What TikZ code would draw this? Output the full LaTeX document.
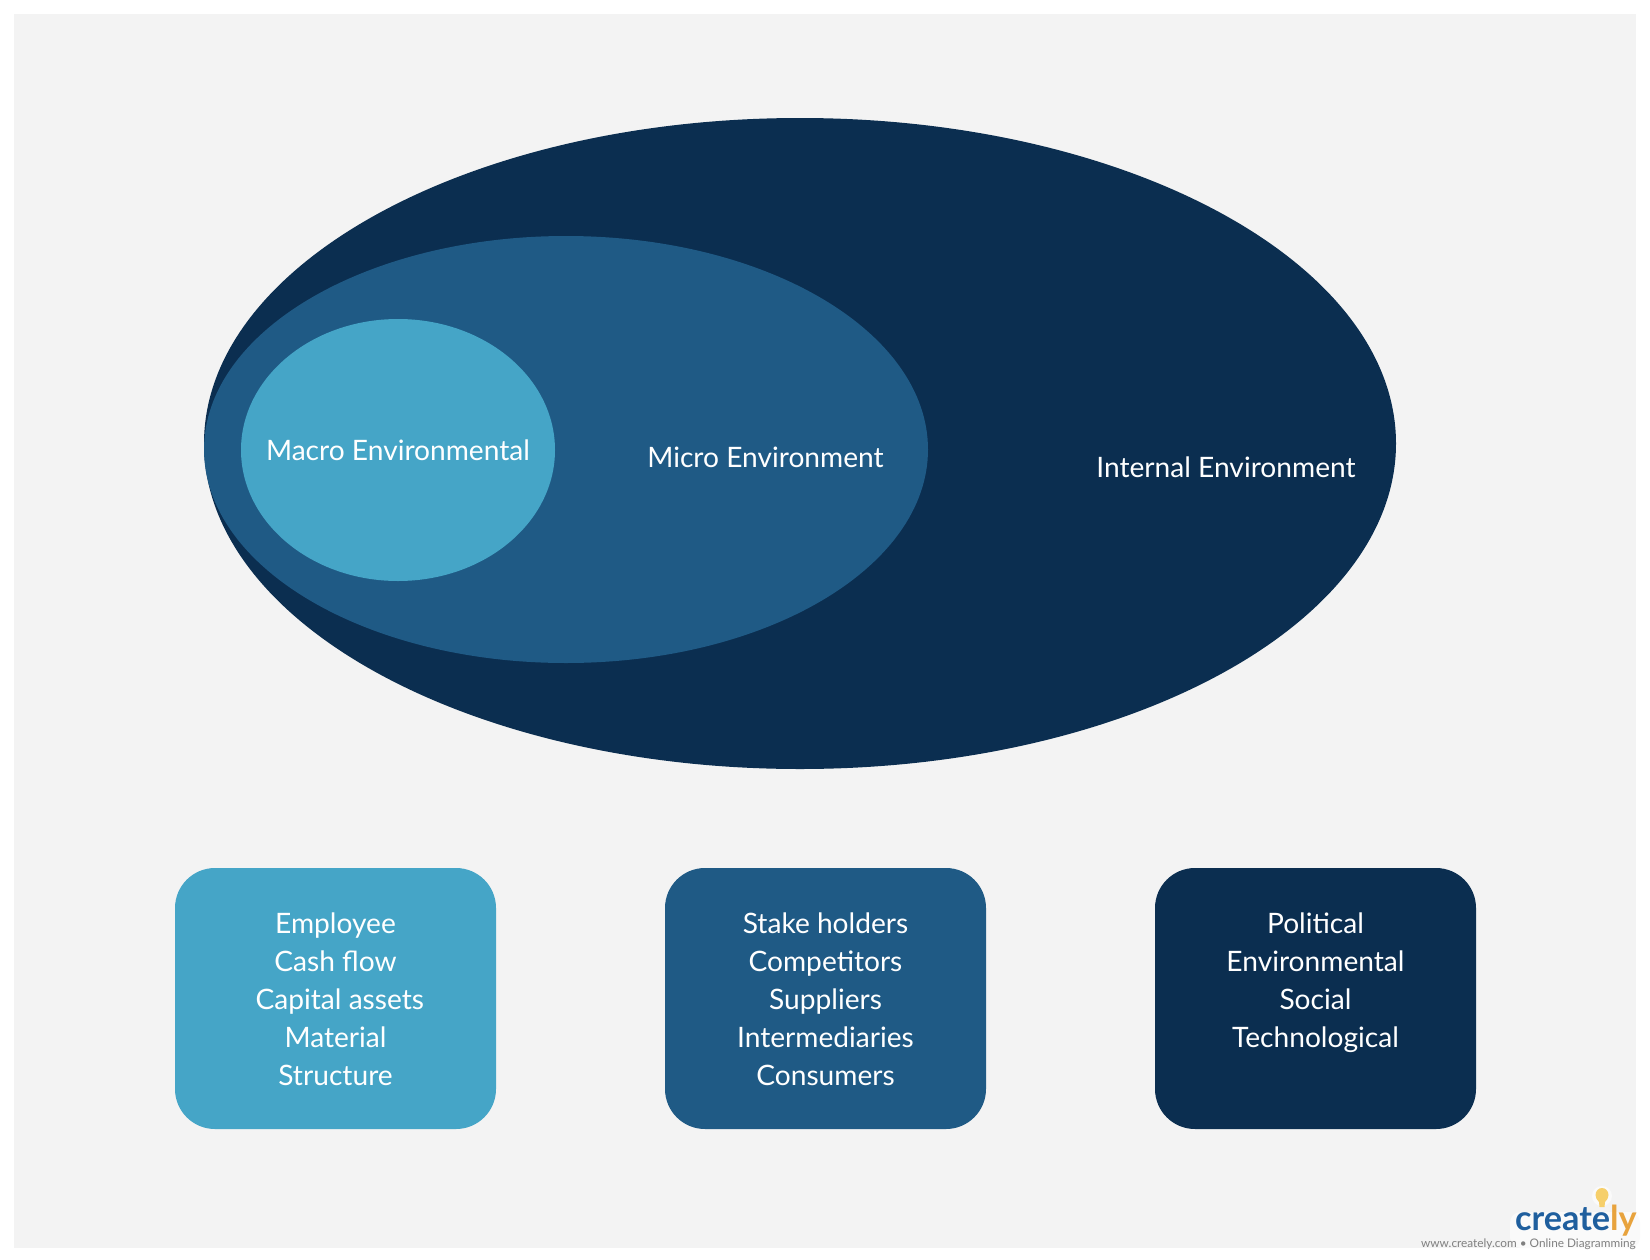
\documentclass[tikz,border=0pt]{standalone}
\usepackage{fontspec}
\setmainfont{Lato}
\usetikzlibrary{shapes.geometric}
\definecolor{bgc}{HTML}{F3F3F3}
\definecolor{darkc}{HTML}{0B2E50}
\definecolor{midc}{HTML}{1F5A85}
\definecolor{lightc}{HTML}{45A5C7}
\definecolor{logoblue}{HTML}{1F5F9E}
\definecolor{logoorange}{HTML}{E8A33D}
\definecolor{bulbc}{HTML}{F6CF6A}
\definecolor{glowc}{HTML}{FAFAFA}
\tikzset{
  x=0.75pt,y=-0.75pt,
  oval/.style={ellipse,draw=none,inner sep=0pt,outer sep=0pt},
  lbl/.style={text=white,font=\fontsize{21.1}{28.5}\selectfont,align=center,inner sep=0pt},
  card/.style={draw=none,rounded corners=30pt,inner sep=0pt,outer sep=0pt,minimum width=240.75pt,minimum height=195.75pt}
}
\begin{document}
\begin{tikzpicture}
\useasboundingbox (0,0) rectangle (1650,1260);
\fill[white] (0,0) rectangle (1650,1260);
\fill[bgc] (14,14) rectangle (1636,1247.5);
\node[oval,fill=darkc,minimum width=894pt,minimum height=488.25pt] (outer) at (800,443.5) {};
\node[oval,fill=midc,minimum width=543pt,minimum height=320.25pt] (micro) at (566,449.5) {};
\node[oval,fill=lightc,minimum width=235.5pt,minimum height=196.5pt] (macro) at (398,450) {};
\node[lbl] (macrot) at (398,450) {Macro Environmental};
\node[lbl] (microt) at (765.5,457) {Micro Environment};
\node[lbl] (internalt) at (1226,467) {Internal Environment};
\node[card,fill=lightc] (c1) at (335.5,998.5) {};
\node[card,fill=midc] (c2) at (825.5,998.5) {};
\node[card,fill=darkc] (c3) at (1315.5,998.5) {};
\node[lbl,anchor=north] (t1) at (335.5,912.3) {Employee\\Cash flow\\\hspace*{6.5pt}Capital assets\\Material\\Structure};
\node[lbl,anchor=north] (t2) at (825.5,912.3) {Stake holders\\Competitors\\Suppliers\\Intermediaries\\Consumers};
\node[lbl,anchor=north] (t3) at (1315.5,912.3) {Political\\Environmental\\Social\\Technological};
% logo
\fill[white] (1420,1247.5) rectangle (1650,1260);
\fill[glowc,rounded corners=8pt] (1510,1212) rectangle (1640,1248);
\fill[glowc] (1602,1196) circle (10);
\fill[bulbc] (1599.5,1207) -- (1604.5,1207) -- (1605,1202) .. controls (1607,1200) and (1608.5,1198) .. (1608.5,1195) .. controls (1608.5,1191) and (1605.5,1188) .. (1602,1188) .. controls (1598.5,1188) and (1595.5,1191) .. (1595.5,1195) .. controls (1595.5,1198) and (1597,1200) .. (1599,1202) -- cycle;
\node[anchor=base east,inner sep=0pt,font=\fontsize{25.7}{27}\selectfont\bfseries] (logo) at (1637,1230) {\textcolor{logoblue}{create}\textcolor{logoorange}{ly}};
\node[anchor=base east,inner sep=0pt,text=gray,font=\fontsize{8.85}{10}\selectfont] (url) at (1636,1247) {www.creately.com • Online Diagramming};
\end{tikzpicture}
\end{document}
